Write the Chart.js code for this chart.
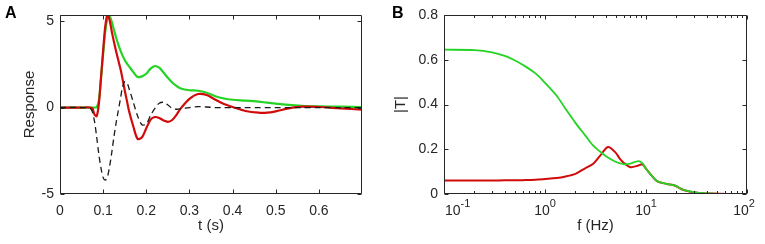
<!DOCTYPE html>
<html>
<head>
<meta charset="utf-8">
<script src="https://cdn.jsdelivr.net/npm/chart.js@4"></script>
<style>
  body { margin: 0; background: #fff; }
  #wrap { position: relative; width: 765px; height: 244px; }
  canvas { position: absolute; top: 0; }
</style>
</head>
<body>
<div id="wrap">
  <canvas id="chartA" width="380" height="244" style="left:0"></canvas>
  <canvas id="chartB" width="381" height="244" style="left:384px"></canvas>
</div>
<script>
// panel A - response in time (s)
const timeA = [0, 0.05, 0.07, 0.075, 0.08, 0.085, 0.09, 0.095, 0.1, 0.105, 0.11, 0.115, 0.12, 0.125, 0.13, 0.135, 0.14, 0.145, 0.15, 0.155, 0.16, 0.17, 0.18, 0.19, 0.2, 0.21, 0.22, 0.23, 0.24, 0.25, 0.26, 0.27, 0.28, 0.3, 0.32, 0.34, 0.36, 0.38, 0.4, 0.43, 0.46, 0.48, 0.5, 0.53, 0.56, 0.6, 0.65, 0.7];
const greenA = [0, 0, 0, 0, 0, 0.02, 0.4, 1.7, 3.1, 4.4, 5.15, 5.25, 4.95, 4.5, 4.05, 3.65, 3.3, 3.0, 2.75, 2.55, 2.38, 2.05, 1.76, 1.8, 1.95, 2.25, 2.4, 2.3, 2.02, 1.72, 1.45, 1.25, 1.1, 1.0, 0.97, 0.85, 0.65, 0.52, 0.45, 0.4, 0.34, 0.28, 0.23, 0.15, 0.1, 0.07, 0.05, 0.03];
const redA = [0, 0, 0, -0.05, -0.4, -0.5, 0.2, 1.7, 3.3, 4.7, 5.38, 5.05, 4.4, 3.8, 3.25, 2.75, 2.25, 1.65, 1.0, 0.4, -0.2, -1.1, -1.82, -1.72, -1.2, -0.7, -0.55, -0.6, -0.75, -0.83, -0.72, -0.42, -0.05, 0.5, 0.78, 0.72, 0.45, 0.2, 0.03, -0.2, -0.3, -0.3, -0.22, -0.05, 0.05, 0.03, -0.05, -0.12];
const dashedA = [0, 0, -0.05, -0.25, -0.8, -1.7, -2.7, -3.5, -4.05, -4.2, -4.0, -3.4, -2.6, -1.7, -0.9, -0.2, 0.5, 1.2, 1.5, 1.45, 1.1, 0.3, -0.5, -1.0, -0.95, -0.45, -0.05, 0.25, 0.3, 0.15, -0.05, -0.1, -0.08, 0, 0.05, 0.03, 0, 0, 0, 0, 0, 0, 0, 0, 0, 0, 0, 0];
const xTicksA = [0, 0.1, 0.2, 0.3, 0.4, 0.5, 0.6];
const yTicksA = [-5, 0, 5];

// panel B - |T| against frequency (Hz)
const freqB = [0.1, 0.2, 0.3, 0.4, 0.5, 0.6, 0.8, 1, 1.3, 1.6, 2, 2.5, 3, 3.5, 4.2, 5, 5.5, 6, 7, 8.4, 9.2, 10, 11, 12.8, 16, 19.5, 23.5, 32, 45, 65, 100];
const greenB = [0.645, 0.643, 0.633, 0.617, 0.598, 0.578, 0.54, 0.497, 0.44, 0.38, 0.318, 0.262, 0.216, 0.19, 0.163, 0.144, 0.138, 0.133, 0.136, 0.147, 0.138, 0.113, 0.09, 0.058, 0.045, 0.037, 0.018, 0.006, 0.002, 0.0005, 0];
const redB = [0.06, 0.06, 0.06, 0.061, 0.061, 0.062, 0.064, 0.067, 0.071, 0.078, 0.09, 0.115, 0.135, 0.17, 0.21, 0.185, 0.158, 0.14, 0.12, 0.127, 0.133, 0.113, 0.09, 0.058, 0.045, 0.037, 0.018, 0.006, 0.002, 0.0005, 0];
const xTicksB = [0.1, 1, 10, 100];
const xExpB = ['-1', '0', '1', '2'];
const yTicksB = [0, 0.2, 0.4, 0.6, 0.8];

const GREEN = '#25d325';
const RED = '#d10a0a';
const INK = '#262626';
const FONT = '"Liberation Sans", Arial, sans-serif';

Chart.defaults.font.family = FONT;
Chart.defaults.color = INK;

function pts(xs, ys) {
  return xs.map((x, i) => ({ x: x, y: ys[i] }));
}

// box round the plot with inward ticks, panel letter, 10^n labels
const frame = {
  id: 'frame',
  afterDraw(chart, args, opts) {
    const { ctx, chartArea: a } = chart;
    const xs = chart.scales.x, ys = chart.scales.y;
    const L = a.left + 0.5, R = a.right - 0.5, T = a.top + 0.5, B = a.bottom - 0.5;
    ctx.save();
    ctx.strokeStyle = INK;
    ctx.lineWidth = 1;
    ctx.beginPath();
    ctx.rect(L, T, R - L, B - T);
    xs.ticks.forEach(t => {
      const px = Math.round(xs.getPixelForValue(t.value)) + 0.5;
      ctx.moveTo(px, B); ctx.lineTo(px, B - 4);
      ctx.moveTo(px, T); ctx.lineTo(px, T + 4);
    });
    (opts.minorX || []).forEach(v => {
      const px = Math.round(xs.getPixelForValue(v)) + 0.5;
      ctx.moveTo(px, B); ctx.lineTo(px, B - 2.5);
      ctx.moveTo(px, T); ctx.lineTo(px, T + 2.5);
    });
    ys.ticks.forEach(t => {
      const py = Math.round(ys.getPixelForValue(t.value)) + 0.5;
      ctx.moveTo(L, py); ctx.lineTo(L + 4, py);
      ctx.moveTo(R, py); ctx.lineTo(R - 4, py);
    });
    ctx.stroke();

    if (opts.exps) {
      ctx.fillStyle = INK;
      ctx.textBaseline = 'alphabetic';
      opts.exps.forEach((e, i) => {
        const px = xs.getPixelForValue(xTicksB[i]);
        ctx.font = '14px ' + FONT;
        const wBase = ctx.measureText('10').width;
        ctx.font = '11px ' + FONT;
        const wExp = ctx.measureText(e).width;
        let x0 = px - (wBase + wExp) / 2;
        if (i === 0) x0 = px + 1;
        if (i === opts.exps.length - 1) x0 = px - (wBase + wExp) / 2 - 3;
        ctx.font = '14px ' + FONT;
        ctx.fillText('10', x0, 215);
        ctx.font = '11px ' + FONT;
        ctx.fillText(e, x0 + wBase, 207);
      });
    }

    ctx.fillStyle = '#000';
    ctx.font = 'bold 16px ' + FONT;
    ctx.textBaseline = 'alphabetic';
    ctx.fillText(opts.letter, opts.letterX, 18);
    ctx.restore();
  }
};

const commonLine = { pointRadius: 0, fill: false, tension: 0.3 };

new Chart(document.getElementById('chartA'), {
  type: 'line',
  data: {
    datasets: [
      Object.assign({ data: pts(timeA, dashedA), borderColor: '#1a1a1a', borderWidth: 1.3, borderDash: [6, 4] }, commonLine),
      Object.assign({ data: pts(timeA, redA), borderColor: RED, borderWidth: 2.2 }, commonLine),
      Object.assign({ data: pts(timeA, greenA), borderColor: GREEN, borderWidth: 2.2 }, commonLine)
    ]
  },
  options: {
    responsive: false,
    animation: false,
    devicePixelRatio: 1,
    layout: { padding: { top: 15, right: 18, left: 0, bottom: 0 } },
    plugins: { legend: { display: false }, tooltip: { enabled: false },
      frame: { letter: 'A', letterX: 5 } },
    scales: {
      x: {
        type: 'linear', min: 0, max: 0.7,
        grid: { display: false, drawTicks: false }, border: { display: false },
        afterBuildTicks: s => { s.ticks = xTicksA.map(v => ({ value: v })); },
        afterFit: s => { s.height = 50; },
        ticks: { font: { size: 14 }, padding: 9, maxRotation: 0, callback: v => String(v) },
        title: { display: true, text: 't (s)', font: { size: 15 }, padding: { bottom: 9 } }
      },
      y: {
        min: -5, max: 5.35,
        grid: { display: false, drawTicks: false }, border: { display: false },
        afterBuildTicks: s => { s.ticks = yTicksA.map(v => ({ value: v })); },
        afterFit: s => { s.width = 60; },
        ticks: { font: { size: 14 }, padding: 6, callback: v => String(v) },
        title: { display: true, text: 'Response', font: { size: 15 }, padding: { top: 21 } }
      }
    }
  },
  plugins: [frame]
});

const minorB = [];
[0.1, 1, 10].forEach(d => { for (let k = 2; k <= 9; k++) minorB.push(d * k); });

new Chart(document.getElementById('chartB'), {
  type: 'line',
  data: {
    datasets: [
      Object.assign({ data: pts(freqB, greenB), borderColor: GREEN, borderWidth: 1.8 }, commonLine),
      Object.assign({ data: pts(freqB, redB), borderColor: RED, borderWidth: 2 }, commonLine)
    ]
  },
  options: {
    responsive: false,
    animation: false,
    devicePixelRatio: 1,
    layout: { padding: { top: 15, right: 18, left: 0, bottom: 0 } },
    plugins: { legend: { display: false }, tooltip: { enabled: false },
      frame: { letter: 'B', letterX: 8, exps: xExpB, minorX: minorB } },
    scales: {
      x: {
        type: 'logarithmic', min: 0.1, max: 100,
        grid: { display: false, drawTicks: false }, border: { display: false },
        afterBuildTicks: s => { s.ticks = xTicksB.map(v => ({ value: v })); },
        afterFit: s => { s.height = 50; },
        ticks: { display: false },
        title: { display: true, text: 'f (Hz)', font: { size: 15 }, padding: { bottom: 9 } }
      },
      y: {
        min: 0, max: 0.8,
        grid: { display: false, drawTicks: false }, border: { display: false },
        afterBuildTicks: s => { s.ticks = yTicksB.map(v => ({ value: v })); },
        afterFit: s => { s.width = 60; },
        ticks: { font: { size: 14 }, padding: 6, callback: v => String(v) },
        title: { display: true, text: '|T|', font: { size: 15 }, padding: { top: 8 } }
      }
    }
  },
  plugins: [frame]
});
</script>
</body>
</html>
